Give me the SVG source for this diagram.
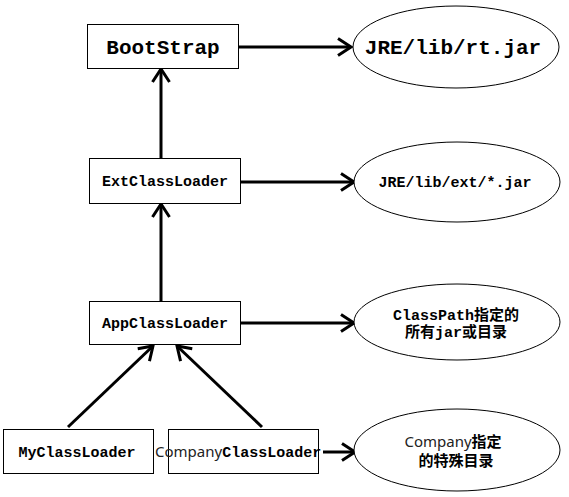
<svg xmlns="http://www.w3.org/2000/svg" width="569" height="497" viewBox="0 0 569 497">
<style>
.box{fill:#fff;stroke:#000;stroke-width:1}
.ell{fill:#fff;stroke:#000;stroke-width:1}
.mono{font-family:"Liberation Mono","Noto Sans CJK SC",monospace;font-weight:bold;fill:#000}
.big{font-size:21px}
.mid{font-size:15px}
.sans{font-family:"Noto Sans","Noto Sans CJK SC",sans-serif;font-weight:normal;fill:#222}
.cjk{font-family:"Noto Sans CJK SC",sans-serif;font-weight:bold;fill:#000}
.conn{stroke:#000;stroke-width:3;fill:none;marker-end:url(#arr)}
</style>
<defs>
<marker id="arr" markerUnits="userSpaceOnUse" viewBox="0 0 16 20" refX="14" refY="10" markerWidth="16" markerHeight="20" orient="auto">
<path d="M1,1.5 L14,10 L1,18.5" fill="none" stroke="#000" stroke-width="3"/>
</marker>
</defs>
<rect width="569" height="497" fill="#fff"/>
<g id="connectors">
<line class="conn" x1="238" y1="47" x2="351" y2="47"/>
<line class="conn" x1="161" y1="158" x2="161" y2="69"/>
<line class="conn" x1="240" y1="182" x2="354" y2="182"/>
<line class="conn" x1="161" y1="301" x2="161" y2="204"/>
<line class="conn" x1="240" y1="323" x2="354" y2="323"/>
<line class="conn" x1="68" y1="427" x2="153" y2="346"/>
<line class="conn" x1="262" y1="427" x2="177" y2="346"/>
<line class="conn" x1="323" y1="452" x2="355" y2="452"/>
</g>
<g id="bootstrap">
<rect class="box" x="87.5" y="24.5" width="151" height="44"/>
<text class="mono big" x="163" y="54" text-anchor="middle">BootStrap</text>
</g>
<g id="rtjar">
<ellipse class="ell" cx="456" cy="47" rx="103" ry="41"/>
<text class="mono big" x="453" y="54" text-anchor="middle">JRE/lib/rt.jar</text>
</g>
<g id="ext">
<rect class="box" x="89.5" y="158.5" width="151" height="45"/>
<text class="mono mid" x="165" y="186" text-anchor="middle">ExtClassLoader</text>
</g>
<g id="extjar">
<ellipse class="ell" cx="457" cy="182" rx="103" ry="40"/>
<text class="mono mid" x="455" y="187" text-anchor="middle">JRE/lib/ext/*.jar</text>
</g>
<g id="app">
<rect class="box" x="89.5" y="301.5" width="151" height="43"/>
<text class="mono mid" x="165" y="328" text-anchor="middle">AppClassLoader</text>
</g>
<g id="classpath">
<ellipse class="ell" cx="457" cy="322" rx="103" ry="38"/>
<text class="mono mid" x="456" y="320" text-anchor="middle">ClassPath指定的</text>
<text class="mono mid" x="456" y="337" text-anchor="middle">所有jar或目录</text>
</g>
<g id="my">
<rect class="box" x="3.5" y="429.5" width="150" height="44"/>
<text class="mono mid" x="77" y="457" text-anchor="middle">MyClassLoader</text>
</g>
<g id="company">
<rect class="box" x="168.5" y="429.5" width="150" height="44"/>
<text x="155" y="457"><tspan class="sans" font-size="15">Company</tspan><tspan class="mono mid">ClassLoader</tspan></text>
</g>
<g id="companydir">
<ellipse class="ell" cx="457" cy="450" rx="103" ry="41"/>
<text x="453" y="447" text-anchor="middle"><tspan class="sans" font-size="15">Company</tspan><tspan class="cjk" font-size="15">指定</tspan></text>
<text class="cjk" font-size="15" x="456" y="466" text-anchor="middle">的特殊目录</text>
</g>
</svg>
